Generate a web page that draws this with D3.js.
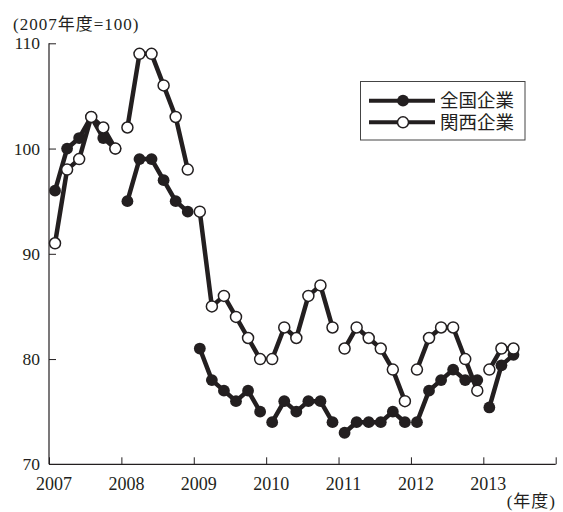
<!DOCTYPE html>
<html>
<head>
<meta charset="utf-8">
<script src="https://cdn.jsdelivr.net/npm/d3@7"></script>
<style>
  html, body { margin: 0; padding: 0; background: #fff; }
  svg text { font-family: "Liberation Serif", "Noto Sans CJK JP", serif; fill: #231f20; }
</style>
</head>
<body>
<svg id="chart" width="563" height="512"></svg>
<script>
// Fiscal years shown on the axis; each year holds bimonthly readings (Apr–May … Feb–Mar)
const fiscalYears = [2007, 2008, 2009, 2010, 2011, 2012, 2013];
const yTicks = [70, 80, 90, 100, 110];

// 全国企業 (index, FY2007 = 100)
const national = [
  [96, 100, 101, 103, 101, 100],
  [95, 99, 99, 97, 95, 94],
  [81, 78, 77, 76, 77, 75],
  [74, 76, 75, 76, 76, 74],
  [73, 74, 74, 74, 75, 74],
  [74, 77, 78, 79, 78, 78],
  [75.4, 79.4, 80.4]
];

// 関西企業 (index, FY2007 = 100)
const kansai = [
  [91, 98, 99, 103, 102, 100],
  [102, 109, 109, 106, 103, 98],
  [94, 85, 86, 84, 82, 80],
  [80, 83, 82, 86, 87, 83],
  [81, 83, 82, 81, 79, 76],
  [79, 82, 83, 83, 80, 77],
  [79, 81, 81]
];

const seriesNames = ["全国企業", "関西企業"];
const ink = "#231f20";

const svg = d3.select("#chart");

const x = d3.scaleLinear().domain([2007, 2014]).range([49, 555.7]);
const y = d3.scaleLinear().domain([70, 110]).range([464.3, 43.3]);

// position of the k-th bimonthly reading inside fiscal year fy
const xPos = (fy, k) => x(fy + (2 * k + 1) / 12);

// axes
const xAxis = svg.append("g").attr("transform", `translate(0,${y(70)})`)
  .call(d3.axisBottom(x).tickValues(d3.range(2007, 2015)).tickSize(-7).tickFormat(""));
xAxis.select(".domain").attr("d", `M${x(2007)},0H${x(2014)}`);
xAxis.selectAll("line").attr("stroke", ink);
xAxis.select(".domain").attr("stroke", ink).attr("stroke-width", 1.2);

const yAxis = svg.append("g").attr("transform", `translate(${x(2007)},0)`)
  .call(d3.axisLeft(y).tickValues(yTicks).tickSize(-7).tickFormat(""));
yAxis.select(".domain").attr("d", `M0,${y(110)}V${y(70)}`);
yAxis.selectAll("line").attr("stroke", ink);
yAxis.select(".domain").attr("stroke", ink).attr("stroke-width", 1.2);
yAxis.selectAll(".tick line").filter(d => d === 70).remove();

// tick labels
svg.append("g").selectAll("text").data(fiscalYears).join("text")
  .attr("x", d => x(d) + 5).attr("y", 489.5)
  .attr("text-anchor", "middle").attr("font-size", 18)
  .text(d => d);

svg.append("g").selectAll("text").data(yTicks).join("text")
  .attr("x", 40).attr("y", d => y(d) + 6)
  .attr("text-anchor", "end").attr("font-size", 17.5)
  .text(d => d);

svg.append("text").attr("x", 13).attr("y", 29.5).attr("font-size", 17)
  .attr("letter-spacing", 1).text("(2007年度=100)");
svg.append("text").attr("x", 556).attr("y", 507).attr("text-anchor", "end")
  .attr("font-size", 17).attr("letter-spacing", 1).text("(年度)");

// series: one polyline per fiscal year, markers on every reading
const line = d3.line().x(d => d.x).y(d => d.y);

function drawSeries(data, filled) {
  const g = svg.append("g");
  data.forEach((vals, i) => {
    const pts = vals.map((v, k) => ({ x: xPos(fiscalYears[i], k), y: y(v) }));
    g.append("path").attr("d", line(pts))
      .attr("fill", "none").attr("stroke", ink).attr("stroke-width", 4.5)
      .attr("stroke-linejoin", "round");
    g.selectAll(null).data(pts).join("circle")
      .attr("cx", d => d.x).attr("cy", d => d.y)
      .attr("r", filled ? 5.9 : 5.5)
      .attr("fill", filled ? ink : "#fff")
      .attr("stroke", ink).attr("stroke-width", filled ? 0 : 1.5);
  });
}
drawSeries(national, true);
drawSeries(kansai, false);

// legend
const legend = svg.append("g");
legend.append("rect").attr("x", 360.5).attr("y", 81.5).attr("width", 164.5).attr("height", 58.5)
  .attr("fill", "#fff").attr("stroke", "#444").attr("stroke-width", 1);
seriesNames.forEach((name, i) => {
  const ly = 100.7 + i * 21.6;
  legend.append("line").attr("x1", 369).attr("x2", 435).attr("y1", ly).attr("y2", ly)
    .attr("stroke", ink).attr("stroke-width", 4);
  legend.append("circle").attr("cx", 403).attr("cy", ly).attr("r", i === 0 ? 5.9 : 5.5)
    .attr("fill", i === 0 ? ink : "#fff").attr("stroke", ink).attr("stroke-width", i === 0 ? 0 : 1.5);
  legend.append("text").attr("x", 440).attr("y", ly + 6.5).attr("font-size", 18.5)
    .text(name);
});
</script>
</body>
</html>
